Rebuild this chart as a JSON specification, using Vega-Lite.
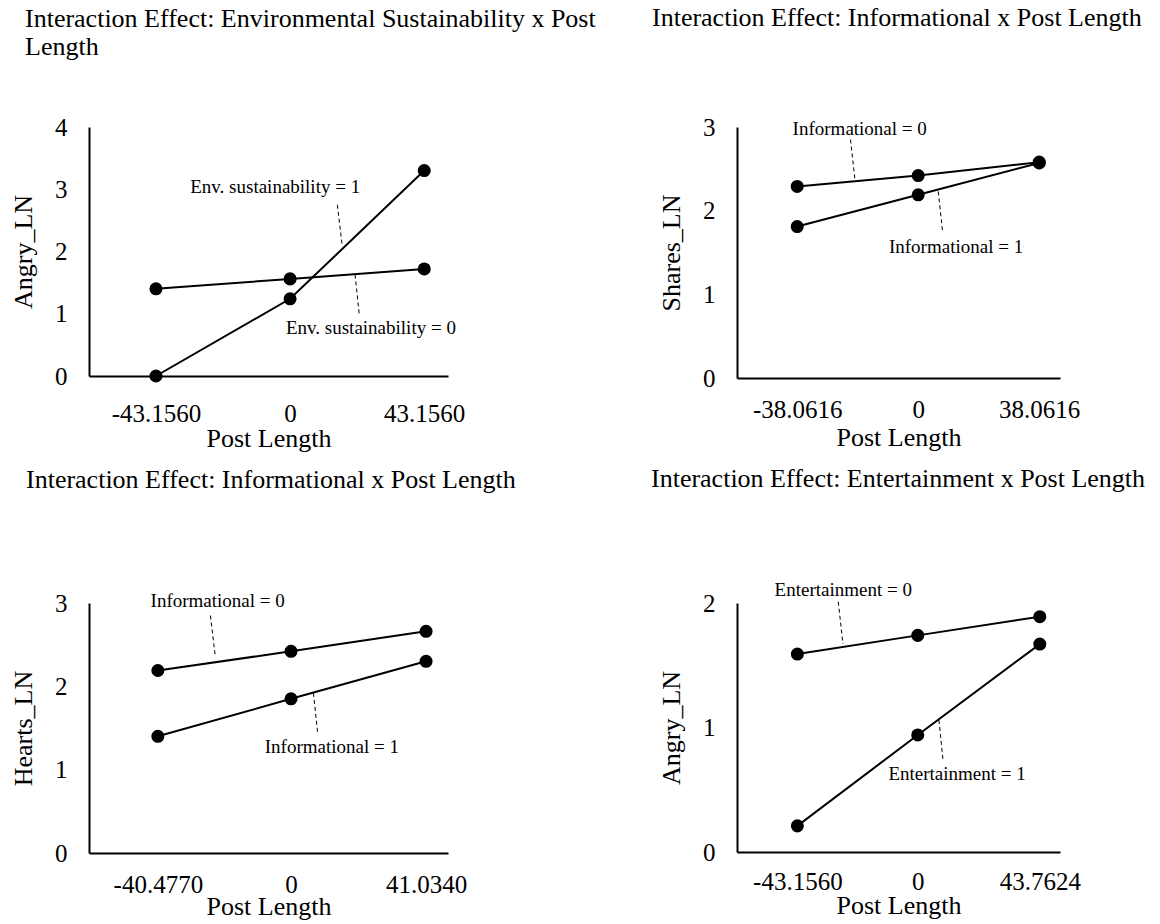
{
  "$schema": "https://vega.github.io/schema/vega-lite/v6.json",
  "background": "white",
  "padding": {"left": 10, "top": 5, "right": 5, "bottom": 5},
  "bounds": "flush",
  "columns": 2,
  "spacing": {"row": 225, "column": 289},
  "config": {
    "font": "Liberation Serif",
    "view": {"stroke": null},
    "axis": {
      "domainColor": "black", "domainWidth": 2, "ticks": false, "grid": false,
      "labelFont": "Liberation Serif", "labelFontSize": 25, "labelColor": "black",
      "titleFont": "Liberation Serif", "titleFontSize": 26, "titleFontWeight": "normal", "titleColor": "black",
      "labelOverlap": false, "labelFlush": false, "labelBound": false
    },
    "axisY": {"labelPadding": 22, "titlePadding": 18, "format": "d"},
    "title": {"font": "Liberation Serif", "fontSize": 26, "fontWeight": "normal", "color": "black", "anchor": "start", "frame": "group", "lineHeight": 28}
  },
  "datasets": {
    "pts": [
      {"panel": "p1", "group": "0", "x": -43.156, "y": 1.40},
      {"panel": "p1", "group": "0", "x": 0, "y": 1.56},
      {"panel": "p1", "group": "0", "x": 43.156, "y": 1.72},
      {"panel": "p1", "group": "1", "x": -43.156, "y": 0.0},
      {"panel": "p1", "group": "1", "x": 0, "y": 1.24},
      {"panel": "p1", "group": "1", "x": 43.156, "y": 3.30},
      {"panel": "p2", "group": "0", "x": -38.0616, "y": 2.29},
      {"panel": "p2", "group": "0", "x": 0, "y": 2.42},
      {"panel": "p2", "group": "0", "x": 38.0616, "y": 2.58},
      {"panel": "p2", "group": "1", "x": -38.0616, "y": 1.81},
      {"panel": "p2", "group": "1", "x": 0, "y": 2.19},
      {"panel": "p2", "group": "1", "x": 38.0616, "y": 2.57},
      {"panel": "p3", "group": "0", "x": -40.477, "y": 2.19},
      {"panel": "p3", "group": "0", "x": 0, "y": 2.42},
      {"panel": "p3", "group": "0", "x": 41.034, "y": 2.66},
      {"panel": "p3", "group": "1", "x": -40.477, "y": 1.40},
      {"panel": "p3", "group": "1", "x": 0, "y": 1.85},
      {"panel": "p3", "group": "1", "x": 41.034, "y": 2.30},
      {"panel": "p4", "group": "0", "x": -43.156, "y": 1.59},
      {"panel": "p4", "group": "0", "x": 0, "y": 1.74},
      {"panel": "p4", "group": "0", "x": 43.7624, "y": 1.89},
      {"panel": "p4", "group": "1", "x": -43.156, "y": 0.21},
      {"panel": "p4", "group": "1", "x": 0, "y": 0.94},
      {"panel": "p4", "group": "1", "x": 43.7624, "y": 1.67}
    ],
    "ann": [
      {"panel": "p1", "label": "Env. sustainability = 1", "tx": -4.8, "ty": 3.03, "x1": 15.2, "y1": 2.75, "x2": 16.8, "y2": 2.08},
      {"panel": "p1", "label": "Env. sustainability = 0", "tx": 26.0, "ty": 0.77, "x1": 20.9, "y1": 1.63, "x2": 22.3, "y2": 0.96},
      {"panel": "p2", "label": "Informational = 0", "tx": -18.4, "ty": 2.975, "x1": -21.3, "y1": 2.85, "x2": -19.9, "y2": 2.37},
      {"panel": "p2", "label": "Informational = 1", "tx": 11.9, "ty": 1.57, "x1": 6.3, "y1": 2.23, "x2": 7.7, "y2": 1.74},
      {"panel": "p3", "label": "Informational = 0", "tx": -22.3, "ty": 3.02, "x1": -24.5, "y1": 2.85, "x2": -23.0, "y2": 2.35},
      {"panel": "p3", "label": "Informational = 1", "tx": 12.4, "ty": 1.27, "x1": 6.8, "y1": 1.92, "x2": 8.1, "y2": 1.44},
      {"panel": "p4", "label": "Entertainment = 0", "tx": -26.7, "ty": 2.105, "x1": -28.5, "y1": 2.01, "x2": -26.8, "y2": 1.67},
      {"panel": "p4", "label": "Entertainment = 1", "tx": 14.1, "ty": 0.63, "x1": 7.6, "y1": 1.06, "x2": 9.1, "y2": 0.73}
    ]
  },
  "concat": [
    {
      "width": 359, "height": 249,
      "title": {"text": ["Interaction Effect: Environmental Sustainability x Post", "Length"], "dx": -64, "offset": 55},
      "layer": [
        {"data": {"name": "pts"}, "transform": [{"filter": "datum.panel == 'p1'"}],
         "mark": {"type": "line", "color": "black", "strokeWidth": 2},
         "encoding": {
           "x": {"field": "x", "type": "quantitative", "scale": {"domain": [-64.7, 50.8], "nice": false, "zero": false},
                 "axis": {"values": [-43.156, 0, 43.156], "labelPadding": 25, "titlePadding": -1, "labelExpr": "datum.value == 0 ? '0' : (datum.value < 0 ? '-' + format(-datum.value, '.4f') : format(datum.value, '.4f'))"}, "title": "Post Length"},
           "y": {"field": "y", "type": "quantitative", "scale": {"domain": [0, 4], "nice": false}, "axis": {"values": [0, 1, 2, 3, 4]}, "title": "Angry_LN"},
           "detail": {"field": "group"}
         }},
        {"data": {"name": "pts"}, "transform": [{"filter": "datum.panel == 'p1'"}],
         "mark": {"type": "circle", "color": "black", "opacity": 1, "size": 170},
         "encoding": {
           "x": {"field": "x", "type": "quantitative", "title": "Post Length"},
           "y": {"field": "y", "type": "quantitative", "title": "Angry_LN"}
         }},
        {"data": {"name": "ann"}, "transform": [{"filter": "datum.panel == 'p1'"}],
         "mark": {"type": "rule", "color": "black", "strokeWidth": 1, "strokeDash": [4, 3]},
         "encoding": {
           "x": {"field": "x1", "type": "quantitative", "title": "Post Length"},
           "y": {"field": "y1", "type": "quantitative", "title": "Angry_LN"},
           "x2": {"field": "x2"}, "y2": {"field": "y2"}
         }},
        {"data": {"name": "ann"}, "transform": [{"filter": "datum.panel == 'p1'"}],
         "mark": {"type": "text", "color": "black", "font": "Liberation Serif", "fontSize": 19, "align": "center", "baseline": "middle"},
         "encoding": {
           "x": {"field": "tx", "type": "quantitative", "title": "Post Length"},
           "y": {"field": "ty", "type": "quantitative", "title": "Angry_LN"},
           "text": {"field": "label"}
         }}
      ]
    },
    {
      "width": 323, "height": 251,
      "title": {"text": "Interaction Effect: Informational x Post Length", "dx": -85, "offset": 84},
      "layer": [
        {"data": {"name": "pts"}, "transform": [{"filter": "datum.panel == 'p2'"}],
         "mark": {"type": "line", "color": "black", "strokeWidth": 2},
         "encoding": {
           "x": {"field": "x", "type": "quantitative", "scale": {"domain": [-57.0, 44.6], "nice": false, "zero": false},
                 "axis": {"values": [-38.0616, 0, 38.0616], "labelPadding": 19, "titlePadding": 2, "labelExpr": "datum.value == 0 ? '0' : (datum.value < 0 ? '-' + format(-datum.value, '.4f') : format(datum.value, '.4f'))"}, "title": "Post Length"},
           "y": {"field": "y", "type": "quantitative", "scale": {"domain": [0, 3], "nice": false}, "axis": {"values": [0, 1, 2, 3]}, "title": "Shares_LN"},
           "detail": {"field": "group"}
         }},
        {"data": {"name": "pts"}, "transform": [{"filter": "datum.panel == 'p2'"}],
         "mark": {"type": "circle", "color": "black", "opacity": 1, "size": 170},
         "encoding": {
           "x": {"field": "x", "type": "quantitative", "title": "Post Length"},
           "y": {"field": "y", "type": "quantitative", "title": "Shares_LN"}
         }},
        {"data": {"name": "ann"}, "transform": [{"filter": "datum.panel == 'p2'"}],
         "mark": {"type": "rule", "color": "black", "strokeWidth": 1, "strokeDash": [4, 3]},
         "encoding": {
           "x": {"field": "x1", "type": "quantitative", "title": "Post Length"},
           "y": {"field": "y1", "type": "quantitative", "title": "Shares_LN"},
           "x2": {"field": "x2"}, "y2": {"field": "y2"}
         }},
        {"data": {"name": "ann"}, "transform": [{"filter": "datum.panel == 'p2'"}],
         "mark": {"type": "text", "color": "black", "font": "Liberation Serif", "fontSize": 19, "align": "center", "baseline": "middle"},
         "encoding": {
           "x": {"field": "tx", "type": "quantitative", "title": "Post Length"},
           "y": {"field": "ty", "type": "quantitative", "title": "Shares_LN"},
           "text": {"field": "label"}
         }}
      ]
    },
    {
      "width": 359, "height": 250,
      "title": {"text": "Interaction Effect: Informational x Post Length", "dx": -63, "offset": 98},
      "layer": [
        {"data": {"name": "pts"}, "transform": [{"filter": "datum.panel == 'p3'"}],
         "mark": {"type": "line", "color": "black", "strokeWidth": 2},
         "encoding": {
           "x": {"field": "x", "type": "quantitative", "scale": {"domain": [-61.4, 47.7], "nice": false, "zero": false},
                 "axis": {"values": [-40.477, 0, 41.034], "labelPadding": 19, "titlePadding": -4, "labelExpr": "datum.value == 0 ? '0' : (datum.value < 0 ? '-' + format(-datum.value, '.4f') : format(datum.value, '.4f'))"}, "title": "Post Length"},
           "y": {"field": "y", "type": "quantitative", "scale": {"domain": [0, 3], "nice": false}, "axis": {"values": [0, 1, 2, 3]}, "title": "Hearts_LN"},
           "detail": {"field": "group"}
         }},
        {"data": {"name": "pts"}, "transform": [{"filter": "datum.panel == 'p3'"}],
         "mark": {"type": "circle", "color": "black", "opacity": 1, "size": 170},
         "encoding": {
           "x": {"field": "x", "type": "quantitative", "title": "Post Length"},
           "y": {"field": "y", "type": "quantitative", "title": "Hearts_LN"}
         }},
        {"data": {"name": "ann"}, "transform": [{"filter": "datum.panel == 'p3'"}],
         "mark": {"type": "rule", "color": "black", "strokeWidth": 1, "strokeDash": [4, 3]},
         "encoding": {
           "x": {"field": "x1", "type": "quantitative", "title": "Post Length"},
           "y": {"field": "y1", "type": "quantitative", "title": "Hearts_LN"},
           "x2": {"field": "x2"}, "y2": {"field": "y2"}
         }},
        {"data": {"name": "ann"}, "transform": [{"filter": "datum.panel == 'p3'"}],
         "mark": {"type": "text", "color": "black", "font": "Liberation Serif", "fontSize": 19, "align": "center", "baseline": "middle"},
         "encoding": {
           "x": {"field": "tx", "type": "quantitative", "title": "Post Length"},
           "y": {"field": "ty", "type": "quantitative", "title": "Hearts_LN"},
           "text": {"field": "label"}
         }}
      ]
    },
    {
      "width": 323, "height": 249,
      "title": {"text": "Interaction Effect: Entertainment x Post Length", "dx": -86, "offset": 89},
      "layer": [
        {"data": {"name": "pts"}, "transform": [{"filter": "datum.panel == 'p4'"}],
         "mark": {"type": "line", "color": "black", "strokeWidth": 2},
         "encoding": {
           "x": {"field": "x", "type": "quantitative", "scale": {"domain": [-64.8, 51.0], "nice": false, "zero": false},
                 "axis": {"values": [-43.156, 0, 43.7624], "labelPadding": 17, "titlePadding": -2, "labelExpr": "datum.value == 0 ? '0' : (datum.value < 0 ? '-' + format(-datum.value, '.4f') : format(datum.value, '.4f'))"}, "title": "Post Length"},
           "y": {"field": "y", "type": "quantitative", "scale": {"domain": [0, 2], "nice": false}, "axis": {"values": [0, 1, 2]}, "title": "Angry_LN"},
           "detail": {"field": "group"}
         }},
        {"data": {"name": "pts"}, "transform": [{"filter": "datum.panel == 'p4'"}],
         "mark": {"type": "circle", "color": "black", "opacity": 1, "size": 170},
         "encoding": {
           "x": {"field": "x", "type": "quantitative", "title": "Post Length"},
           "y": {"field": "y", "type": "quantitative", "title": "Angry_LN"}
         }},
        {"data": {"name": "ann"}, "transform": [{"filter": "datum.panel == 'p4'"}],
         "mark": {"type": "rule", "color": "black", "strokeWidth": 1, "strokeDash": [4, 3]},
         "encoding": {
           "x": {"field": "x1", "type": "quantitative", "title": "Post Length"},
           "y": {"field": "y1", "type": "quantitative", "title": "Angry_LN"},
           "x2": {"field": "x2"}, "y2": {"field": "y2"}
         }},
        {"data": {"name": "ann"}, "transform": [{"filter": "datum.panel == 'p4'"}],
         "mark": {"type": "text", "color": "black", "font": "Liberation Serif", "fontSize": 19, "align": "center", "baseline": "middle"},
         "encoding": {
           "x": {"field": "tx", "type": "quantitative", "title": "Post Length"},
           "y": {"field": "ty", "type": "quantitative", "title": "Angry_LN"},
           "text": {"field": "label"}
         }}
      ]
    }
  ]
}
